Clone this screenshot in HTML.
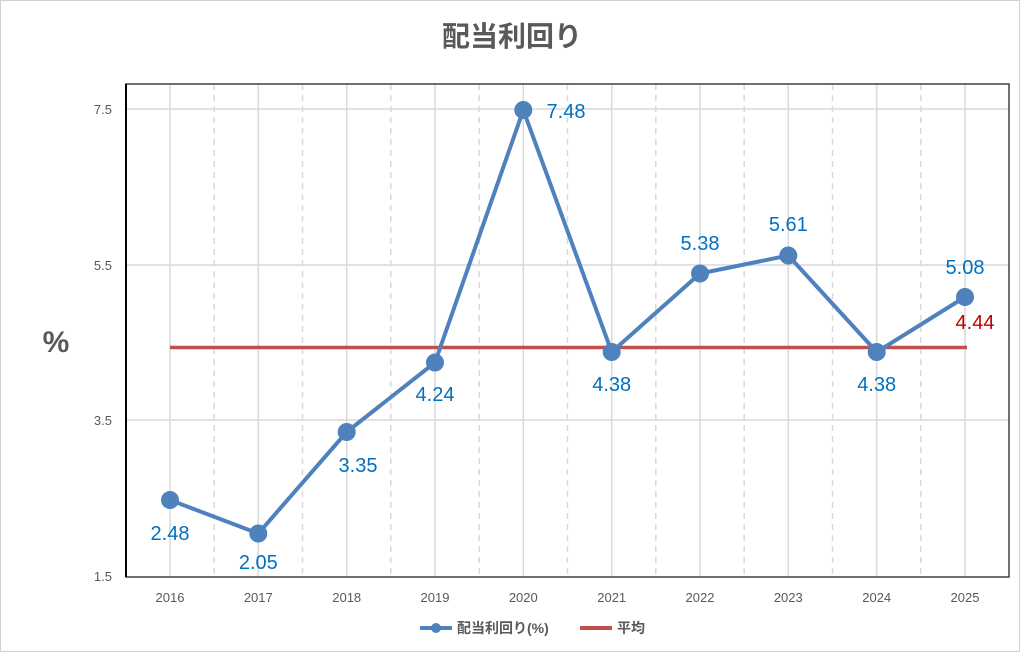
<!DOCTYPE html>
<html><head><meta charset="utf-8"><style>
html,body{margin:0;padding:0;background:#fff;}
svg{display:block;font-family:"Liberation Sans","Noto Sans CJK JP",sans-serif;}
</style></head><body>
<svg width="1024" height="656" viewBox="0 0 1024 656">
<rect x="0.5" y="0.5" width="1019" height="651" fill="#fff" stroke="#d0d0d0"/>
<text x="512" y="46" text-anchor="middle" font-size="28" font-weight="bold" fill="#595959">配当利回り</text>
<g stroke="#d9d9d9" stroke-width="1.5">
<line x1="126" y1="109" x2="1009" y2="109"/>
<line x1="126" y1="265" x2="1009" y2="265"/>
<line x1="126" y1="420" x2="1009" y2="420"/>
<line x1="170" y1="84" x2="170" y2="576"/><line x1="258.3" y1="84" x2="258.3" y2="576"/><line x1="346.7" y1="84" x2="346.7" y2="576"/><line x1="435" y1="84" x2="435" y2="576"/><line x1="523.3" y1="84" x2="523.3" y2="576"/><line x1="611.7" y1="84" x2="611.7" y2="576"/><line x1="700" y1="84" x2="700" y2="576"/><line x1="788.3" y1="84" x2="788.3" y2="576"/><line x1="876.7" y1="84" x2="876.7" y2="576"/><line x1="965" y1="84" x2="965" y2="576"/>
</g>
<g stroke="#d9d9d9" stroke-width="1.5" stroke-dasharray="6,5">
<line x1="214.2" y1="84" x2="214.2" y2="576"/><line x1="302.5" y1="84" x2="302.5" y2="576"/><line x1="390.8" y1="84" x2="390.8" y2="576"/><line x1="479.2" y1="84" x2="479.2" y2="576"/><line x1="567.5" y1="84" x2="567.5" y2="576"/><line x1="655.8" y1="84" x2="655.8" y2="576"/><line x1="744.2" y1="84" x2="744.2" y2="576"/><line x1="832.5" y1="84" x2="832.5" y2="576"/><line x1="920.8" y1="84" x2="920.8" y2="576"/>
</g>
<rect x="126" y="84" width="883" height="493" fill="none" stroke="#404040" stroke-width="1.5"/>
<line x1="126" y1="84" x2="126" y2="577" stroke="#000" stroke-width="2"/>
<g font-size="13" fill="#595959" text-anchor="end">
<text x="112" y="114">7.5</text><text x="112" y="270">5.5</text><text x="112" y="425">3.5</text><text x="112" y="581">1.5</text>
</g>
<text x="56" y="352" text-anchor="middle" font-size="30" font-weight="bold" fill="#595959">%</text>
<g font-size="13" fill="#595959" text-anchor="middle">
<text x="170" y="602">2016</text><text x="258.3" y="602">2017</text><text x="346.7" y="602">2018</text><text x="435" y="602">2019</text><text x="523.3" y="602">2020</text><text x="611.7" y="602">2021</text><text x="700" y="602">2022</text><text x="788.3" y="602">2023</text><text x="876.7" y="602">2024</text><text x="965" y="602">2025</text>
</g>
<line x1="170" y1="347.5" x2="967" y2="347.5" stroke="#c0504d" stroke-width="3.5"/>
<polyline fill="none" stroke="#4f81bd" stroke-width="4" stroke-linejoin="round" points="170,500 258.3,533.5 346.7,432 435,362.5 523.3,110 611.7,352 700,273.5 788.3,255.5 876.7,352 965,297"/>
<g fill="#4f81bd">
<circle cx="170" cy="500" r="9"/><circle cx="258.3" cy="533.5" r="9"/><circle cx="346.7" cy="432" r="9"/><circle cx="435" cy="362.5" r="9"/><circle cx="523.3" cy="110" r="9"/><circle cx="611.7" cy="352" r="9"/><circle cx="700" cy="273.5" r="9"/><circle cx="788.3" cy="255.5" r="9"/><circle cx="876.7" cy="352" r="9"/><circle cx="965" cy="297" r="9"/>
</g>
<g font-size="20" fill="#0070c0" text-anchor="middle">
<text x="170" y="540">2.48</text><text x="258.3" y="569">2.05</text><text x="358" y="472">3.35</text><text x="435" y="401">4.24</text><text x="566" y="118">7.48</text><text x="611.7" y="391">4.38</text><text x="700" y="250">5.38</text><text x="788.3" y="231">5.61</text><text x="876.7" y="391">4.38</text><text x="965" y="274">5.08</text>
</g>
<text x="975" y="329" text-anchor="middle" font-size="20" fill="#c00000">4.44</text>
<line x1="420" y1="628" x2="452" y2="628" stroke="#4f81bd" stroke-width="4"/>
<circle cx="436" cy="628" r="5" fill="#4f81bd"/>
<text x="457" y="633" font-size="14" font-weight="bold" fill="#595959">配当利回り(%)</text>
<line x1="580" y1="628" x2="612" y2="628" stroke="#c0504d" stroke-width="4"/>
<text x="617" y="633" font-size="14" font-weight="bold" fill="#595959">平均</text>
</svg>
</body></html>
